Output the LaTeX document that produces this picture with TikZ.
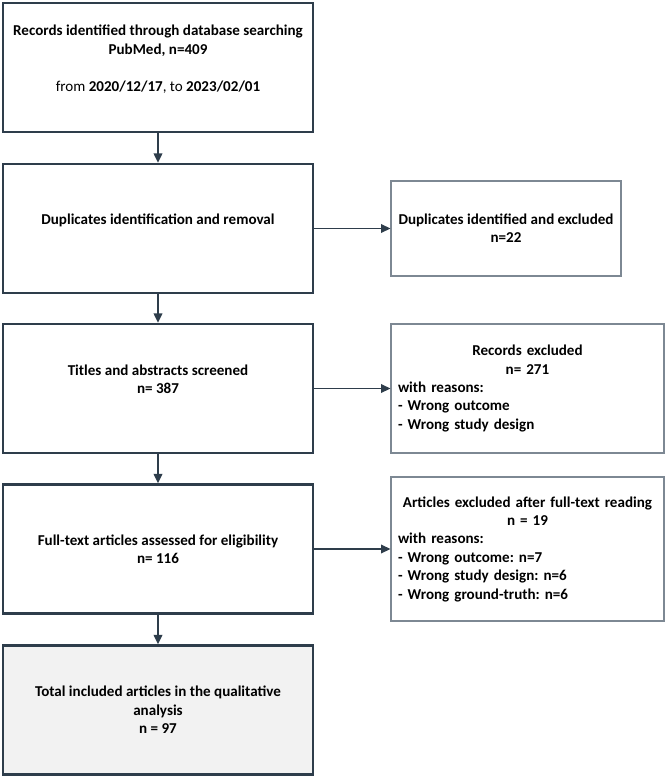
\documentclass[tikz,border=0pt]{standalone}
\usepackage{fontspec}
\setmainfont{Carlito}
\usetikzlibrary{arrows.meta}
\definecolor{edgecol}{HTML}{2E3D4B}
\definecolor{thincol}{HTML}{7D8893}
\definecolor{fillgray}{HTML}{F2F2F2}
\frenchspacing
\begin{document}
\begin{tikzpicture}[x=0.75pt,y=-0.75pt,
  every node/.style={font=\fontsize{11.3}{13.8}\selectfont, inner sep=0pt},
  mainbox/.style={draw=edgecol, line width=1.9pt, minimum width=232.5pt, minimum height=96.75pt, align=center, font=\fontsize{11.3}{13.8}\selectfont\bfseries},
  sidebox/.style={draw=thincol, line width=0.9pt, align=left, font=\fontsize{11.3}{13.8}\selectfont\bfseries},
  flow/.style={draw=edgecol, line width=1.1pt, -{Triangle[length=7pt,width=6.5pt]}}]
\useasboundingbox (0,0) rectangle (666,777);

\node[mainbox] (b1) at (158,67.5) {Records identified through database searching\\PubMed, n=409\\ \mbox{}\\ {\mdseries from} 2020/12/17{\mdseries, to} 2023/02/01\\ \mbox{}};
\node[mainbox] (b2) at (158,228.5) {Duplicates identification and removal\\ \mbox{}};
\node[mainbox] (b3) at (158,388.5) {Titles and abstracts screened\\n= 387\\ \mbox{}};
\node[mainbox] (b4) at (158,549) {Full-text articles assessed for eligibility\\n= 116};
\node[mainbox, fill=fillgray] (b5) at (158,710) {Total included articles in the qualitative\\analysis\\n = 97};

\node[sidebox, minimum width=172.5pt, minimum height=71.25pt, align=center] (r2) at (506,228.5) {Duplicates identified and excluded\\n=22};
\node[sidebox, minimum width=204.75pt, minimum height=96.75pt, text width=194.25pt] (r3) at (527.5,388.5) {\makebox[\linewidth][c]{Records excluded}\\\makebox[\linewidth][c]{n= 271}\\with reasons:\\- Wrong outcome\\- Wrong study design};
\node[sidebox, minimum width=204.75pt, minimum height=108pt, text width=194.25pt] (r4) at (527.5,549) {\makebox[\linewidth][c]{Articles excluded after full-text reading}\\\makebox[\linewidth][c]{n = 19}\\with reasons:\\- Wrong outcome: n=7\\- Wrong study design: n=6\\- Wrong ground-truth: n=6};

\draw[flow] (b1) -- (b2);
\draw[flow] (b2) -- (b3);
\draw[flow] (b3) -- (b4);
\draw[flow] (b4) -- (b5);
\draw[flow] (b2) -- (r2);
\draw[flow] (b3.east) -- (b3.east -| r3.west);
\draw[flow] (b4.east) -- (b4.east -| r4.west);
\end{tikzpicture}
\end{document}
